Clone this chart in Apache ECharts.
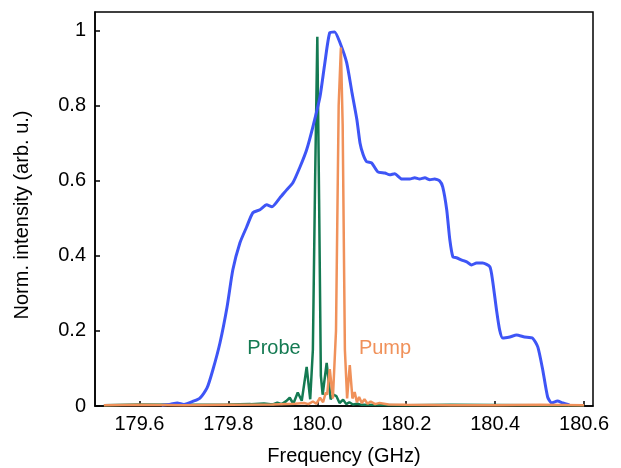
<!DOCTYPE html>
<html><head><meta charset="utf-8">
<script src="https://cdn.jsdelivr.net/npm/echarts@6/dist/echarts.min.js"></script>
<style>html,body{margin:0;padding:0;background:#fff}#c{width:621px;height:468px}</style>
</head><body><div id="c"></div>
<script>
// Tick values
const xTicks = [179.6, 179.8, 180.0, 180.2, 180.4, 180.6];
const yTicks = [0, 0.2, 0.4, 0.6, 0.8, 1];

// Broad spectrum (blue)
const broadX = [179.65,179.67,179.685,179.7,179.707,179.72,179.736,179.752,179.765,179.781,179.797,179.81,179.826,179.841,179.855,179.871,179.886,179.898,179.916,179.931,179.945,179.961,179.976,179.99,180.006,180.017,180.028,180.039,180.051,180.066,180.078,180.089,180.096,180.103,180.111,180.122,180.136,180.152,180.163,180.174,180.19,180.208,180.219,180.23,180.242,180.253,180.264,180.275,180.282,180.291,180.298,180.305,180.313,180.325,180.336,180.347,180.358,180.372,180.388,180.394,180.403,180.41,180.417,180.433,180.448,180.466,180.484,180.496,180.507,180.518,180.527,180.54,180.552,180.567];
const broadY = [0.002,0.005,0.008,0.004,0.006,0.012,0.021,0.048,0.096,0.168,0.264,0.363,0.435,0.477,0.515,0.523,0.536,0.531,0.555,0.576,0.595,0.637,0.683,0.744,0.824,0.915,0.995,0.997,0.968,0.915,0.835,0.763,0.701,0.67,0.651,0.648,0.624,0.621,0.616,0.619,0.605,0.605,0.608,0.605,0.608,0.603,0.605,0.6,0.584,0.523,0.443,0.397,0.395,0.389,0.384,0.376,0.381,0.381,0.371,0.336,0.256,0.203,0.181,0.184,0.189,0.184,0.181,0.157,0.096,0.024,0.008,0.013,0.008,0.003];

// Probe (green)
const probeX = [179.52,179.6,179.7,179.8,179.85,179.88,179.9,179.91,179.92,179.93,179.938,179.946,179.956,179.965,179.976,179.984,179.99,179.995,180.0,180.004,180.008,180.012,180.021,180.03,180.036,180.043,180.05,180.058,180.065,180.072,180.08,180.09,180.1,180.2,180.3,180.5,180.6];
const probeY = [0.002,0.004,0.003,0.004,0.005,0.007,0.004,0.009,0.005,0.013,0.022,0.006,0.036,0.014,0.104,0.018,0.15,0.6,0.984,0.55,0.08,0.03,0.115,0.018,0.03,0.026,0.008,0.017,0.005,0.01,0.004,0.006,0.003,0.002,0.003,0.002,0.002];

// Pump (orange)
const pumpX = [179.52,179.6,179.7,179.8,179.9,179.95,179.97,179.98,179.99,179.998,180.006,180.013,180.019,180.022,180.028,180.035,180.042,180.048,180.053,180.057,180.062,180.067,180.073,180.079,180.084,180.089,180.094,180.1,180.106,180.113,180.12,180.13,180.14,180.16,180.2,180.3,180.4,180.5,180.6];
const pumpY = [0.002,0.003,0.002,0.003,0.004,0.006,0.008,0.005,0.012,0.006,0.022,0.01,0.036,0.03,0.098,0.02,0.2,0.8,0.955,0.75,0.15,0.02,0.109,0.02,0.037,0.01,0.024,0.008,0.018,0.006,0.012,0.005,0.008,0.004,0.003,0.002,0.002,0.003,0.002];

const zip = (xs, ys) => xs.map((x, i) => [x, ys[i]]);
const font = 'Liberation Sans, Arial, Helvetica, sans-serif';
const chart = echarts.init(document.getElementById('c'), null, {renderer: 'canvas'});
chart.setOption({
  animation: false,
  backgroundColor: '#fff',
  grid: {left: 95, right: 28, top: 12, bottom: 62, show: true, borderColor: '#000', borderWidth: 1.5, backgroundColor: 'transparent'},
  xAxis: {
    type: 'value', min: 179.5, max: 180.62,
    splitLine: {show: false},
    axisLine: {lineStyle: {color: '#000', width: 1.5}},
    axisTick: {inside: true, length: 5, lineStyle: {color: '#000', width: 1.5}, customValues: xTicks},
    axisLabel: {customValues: xTicks, color: '#000', fontSize: 20, fontFamily: font, margin: 8, formatter: v => v.toFixed(1)}
  },
  yAxis: {
    type: 'value', min: 0, max: 1.05,
    splitLine: {show: false},
    axisLine: {lineStyle: {color: '#000', width: 1.5}},
    axisTick: {inside: true, length: 5, lineStyle: {color: '#000', width: 1.5}, customValues: yTicks},
    axisLabel: {customValues: yTicks, color: '#000', fontSize: 20, fontFamily: font, margin: 9, formatter: v => (v === 0 || v === 1) ? String(v) : v.toFixed(1)}
  },
  series: [
    {type: 'line', data: zip(probeX, probeY), showSymbol: false, lineStyle: {color: '#147a52', width: 2.5}, z: 2},
    {type: 'line', data: zip(broadX, broadY), showSymbol: false, smooth: 0.2, lineStyle: {color: '#3e55f6', width: 3}, z: 3},
    {type: 'line', data: zip(pumpX, pumpY), showSymbol: false, lineStyle: {color: '#f0915a', width: 2.5}, z: 4}
  ],
  graphic: [
    {type: 'text', x: 344, y: 456, style: {text: 'Frequency (GHz)', font: '20px ' + font, fill: '#000', align: 'center', verticalAlign: 'middle'}},
    {type: 'text', x: 22, y: 215, rotation: Math.PI / 2, style: {text: 'Norm. intensity (arb. u.)', font: '20px ' + font, fill: '#000', align: 'center', verticalAlign: 'middle'}},
    {type: 'text', x: 274, y: 348, style: {text: 'Probe', font: '20px ' + font, fill: '#147a52', align: 'center', verticalAlign: 'middle'}},
    {type: 'text', x: 385, y: 348, style: {text: 'Pump', font: '20px ' + font, fill: '#f0915a', align: 'center', verticalAlign: 'middle'}}
  ]
});
</script></body></html>
